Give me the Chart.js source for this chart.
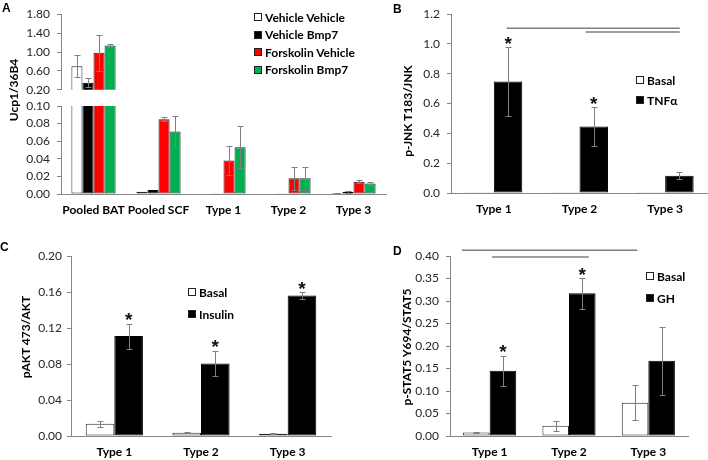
<!DOCTYPE html>
<html>
<head>
<meta charset="utf-8">
<script src="https://cdn.jsdelivr.net/npm/chart.js@4.4.1/dist/chart.umd.min.js"></script>
<style>
  body { margin: 0; background: #fff; }
  #wrap { position: relative; width: 708px; height: 460px; overflow: hidden; }
  canvas { position: absolute; }
  .letter { position: absolute; font: bold 12px "Liberation Sans", Arial, sans-serif; line-height: 12px; color: #000; }
  .ytitle { position: absolute; font: bold 12px Lato, sans-serif; white-space: nowrap; color: #000;
            transform: translate(-50%, -50%) rotate(-90deg); }
  .lrow { position: absolute; font: bold 12px Lato, sans-serif; color: #000; white-space: nowrap;
          display: flex; align-items: center; height: 14px; }
  .lbox { width: 8px; height: 8px; box-sizing: border-box; border: 1px solid #222; margin-right: 3px; }
</style>
</head>
<body>
<div id="wrap">
  <canvas id="aTop" width="390" height="104" style="left:0;top:0"></canvas>
  <canvas id="aBottom" width="390" height="140" style="left:0;top:90px"></canvas>
  <canvas id="bChart" width="318" height="230" style="left:390px;top:0"></canvas>
  <canvas id="cChart" width="354" height="230" style="left:0;top:230px"></canvas>
  <canvas id="dChart" width="318" height="230" style="left:390px;top:230px"></canvas>

  <div class="letter" style="left:2px;top:2px">A</div>
  <div class="letter" style="left:393px;top:3px">B</div>
  <div class="letter" style="left:0px;top:241px">C</div>
  <div class="letter" style="left:393px;top:245px">D</div>

  <div class="ytitle" style="left:13px;top:90px">Ucp1/36B4</div>
  <div class="ytitle" style="left:407px;top:111px">p-JNK T183/JNK</div>
  <div class="ytitle" style="left:25px;top:337px">pAKT 473/AKT</div>
  <div class="ytitle" style="left:406px;top:347px">p-STAT5 Y694/STAT5</div>
</div>

<script>
// ---- panel A: Ucp1 expression (broken axis) ----
const aCategories = ['Pooled BAT', 'Pooled SCF', 'Type 1', 'Type 2', 'Type 3'];
const aSeriesNames = ['Vehicle Vehicle', 'Vehicle Bmp7', 'Forskolin Vehicle', 'Forskolin Bmp7'];
const aVehicleVehicle = [0.70, 0.0025, 0.0005, 0.0006, 0.0012];
const aVehicleVehicleErr = [0.235, 0, 0, 0, 0.0003];
const aVehicleBmp7 = [0.35, 0.0045, 0.0004, 0.0003, 0.0025];
const aVehicleBmp7Err = [0.10, 0, 0, 0, 0.0008];
const aForskolinVehicle = [0.985, 0.085, 0.038, 0.018, 0.014];
const aForskolinVehicleErr = [0.38, 0.0025, 0.0165, 0.013, 0.0017];
const aForskolinBmp7 = [1.14, 0.071, 0.053, 0.018, 0.012];
const aForskolinBmp7Err = [0.03, 0.0175, 0.024, 0.013, 0.0013];
const aUpperTicks = [0.20, 0.60, 1.00, 1.40, 1.80];
const aLowerTicks = [0.00, 0.02, 0.04, 0.06, 0.08, 0.10];

// ---- panels B, C, D share the cell types ----
const typeCategories = ['Type 1', 'Type 2', 'Type 3'];

const bSeriesNames = ['Basal', 'TNFα'];
const bBasal = [0.005, 0.005, 0.005];
const bBasalErr = [0, 0, 0];
const bTnf = [0.748, 0.447, 0.116];
const bTnfErr = [0.23, 0.13, 0.022];
const bTnfStars = [true, true, false];
const bTicks = [0.0, 0.2, 0.4, 0.6, 0.8, 1.0, 1.2];
// comparison lines: [from category, to category, level]
const bBrackets = [[0.15, 2.17, 1.105], [1.07, 2.17, 1.08]];

const cSeriesNames = ['Basal', 'Insulin'];
const cBasal = [0.0135, 0.0035, 0.0025];
const cBasalErr = [0.0035, 0.0005, 0.0004];
const cInsulin = [0.111, 0.0805, 0.156];
const cInsulinErr = [0.014, 0.014, 0.0035];
const cInsulinStars = [true, true, true];
const cTicks = [0.00, 0.04, 0.08, 0.12, 0.16, 0.20];

const dSeriesNames = ['Basal', 'GH'];
const dBasal = [0.008, 0.023, 0.074];
const dBasalErr = [0.001, 0.011, 0.039];
const dGh = [0.145, 0.317, 0.167];
const dGhErr = [0.033, 0.034, 0.075];
const dGhStars = [true, true, false];
const dTicks = [0.00, 0.05, 0.10, 0.15, 0.20, 0.25, 0.30, 0.35, 0.40];
const dBrackets = [[-0.35, 1.86, 0.413], [0.03, 1.25, 0.398]];

// styles
const axisGrey = '#868686';
const errGrey = '#7f7f7f';
const fillWhite = '#ffffff';
const fillBlack = '#000000';
const fillRed = '#ff0000';
const fillGreen = '#00b050';
const edgeDark = '#262626';

function overlayPlugin(setup) {
  return {
    id: 'overlay',
    afterDatasetsDraw(chart) {
      const ctx = chart.ctx;
      const area = chart.chartArea;
      const yScale = chart.scales.y;
      const xScale = chart.scales.x;

      // error bars
      ctx.save();
      ctx.beginPath();
      ctx.rect(area.left, area.top - 1, area.right - area.left, area.bottom - area.top + 2);
      ctx.clip();
      ctx.strokeStyle = errGrey;
      ctx.lineWidth = 1;
      chart.data.datasets.forEach((ds, i) => {
        const errs = setup.series[i].errors;
        chart.getDatasetMeta(i).data.forEach((bar, j) => {
          const err = errs[j];
          if (!err) { return; }
          const top = Math.round(yScale.getPixelForValue(ds.data[j] + err)) + 0.5;
          const bot = Math.round(yScale.getPixelForValue(ds.data[j] - err)) + 0.5;
          const x = Math.round(bar.x) + 0.5;
          ctx.beginPath();
          ctx.moveTo(x, top); ctx.lineTo(x, bot);
          ctx.moveTo(x - 3, top); ctx.lineTo(x + 3, top);
          ctx.moveTo(x - 3, bot); ctx.lineTo(x + 3, bot);
          ctx.stroke();
        });
      });
      ctx.restore();

      // significance stars
      if (setup.stars) {
        ctx.save();
        ctx.fillStyle = '#111';
        ctx.font = 'bold 19px "Liberation Sans"';
        ctx.textAlign = 'center';
        ctx.textBaseline = 'alphabetic';
        const m = ctx.measureText('*');
        const si = setup.starSeries;
        const meta = chart.getDatasetMeta(si);
        setup.stars.forEach((on, j) => {
          if (!on) { return; }
          const v = setup.series[si].values[j] + setup.series[si].errors[j];
          const centre = yScale.getPixelForValue(v) - 7;
          const base = centre + (m.actualBoundingBoxAscent - m.actualBoundingBoxDescent) / 2;
          ctx.fillText('*', meta.data[j].x, base);
        });
        ctx.restore();
      }

      // comparison lines
      if (setup.brackets) {
        ctx.save();
        ctx.strokeStyle = errGrey;
        ctx.lineWidth = 1.5;
        setup.brackets.forEach((b) => {
          const y = yScale.getPixelForValue(b[2]);
          ctx.beginPath();
          ctx.moveTo(xScale.getPixelForValue(b[0]), y);
          ctx.lineTo(xScale.getPixelForValue(b[1]), y);
          ctx.stroke();
        });
        ctx.restore();
      }
    }
  };
}

function makeChart(id, setup) {
  const target = document.getElementById(id);
  return new Chart(target, {
    type: 'bar',
    data: {
      labels: setup.labels,
      datasets: setup.series.map((s) => ({
        label: s.name,
        data: s.values,
        backgroundColor: s.fill,
        borderColor: s.fill === fillBlack ? fillBlack : edgeDark,
        borderWidth: 1,
        borderSkipped: false,
        barPercentage: 1,
        categoryPercentage: setup.groupShare,
        clip: setup.clip
      }))
    },
    options: {
      responsive: false,
      animation: false,
      devicePixelRatio: 1,
      layout: { padding: setup.padding },
      plugins: { legend: { display: false }, tooltip: { enabled: false } },
      scales: {
        x: {
          display: setup.showX,
          grid: { display: false, drawTicks: false },
          border: { display: true, color: axisGrey, width: 1 },
          ticks: {
            color: '#000', padding: 9, autoSkip: false, maxRotation: 0, minRotation: 0,
            font: { family: 'Lato', size: 12, weight: 'bold' }
          },
          afterFit: (scale) => { scale.height = setup.xHeight; }
        },
        y: {
          min: setup.ticks[0],
          max: setup.ticks[setup.ticks.length - 1],
          afterBuildTicks: (scale) => { scale.ticks = setup.ticks.map((v) => ({ value: v })); },
          grid: { drawOnChartArea: false, drawTicks: true, tickLength: 4, color: axisGrey },
          border: { display: true, color: axisGrey, width: 1 },
          ticks: {
            color: '#262626', padding: setup.tickGap, font: { family: 'Lato', size: 12 },
            callback: (v) => Number(v).toFixed(setup.decimals)
          },
          afterFit: (scale) => { scale.width = setup.yWidth; }
        }
      }
    },
    plugins: [overlayPlugin(setup)]
  });
}

function makeLegend(left, firstCentre, gap, names, fills) {
  const wrap = document.getElementById('wrap');
  names.forEach((name, i) => {
    const row = document.createElement('div');
    row.className = 'lrow';
    row.style.left = left + 'px';
    row.style.top = (firstCentre + i * gap - 7) + 'px';
    const box = document.createElement('span');
    box.className = 'lbox';
    box.style.background = fills[i];
    row.appendChild(box);
    row.appendChild(document.createTextNode(name));
    wrap.appendChild(row);
  });
}

const aSeries = [
  { name: aSeriesNames[0], values: aVehicleVehicle, errors: aVehicleVehicleErr, fill: fillWhite },
  { name: aSeriesNames[1], values: aVehicleBmp7, errors: aVehicleBmp7Err, fill: fillBlack },
  { name: aSeriesNames[2], values: aForskolinVehicle, errors: aForskolinVehicleErr, fill: fillRed },
  { name: aSeriesNames[3], values: aForskolinBmp7, errors: aForskolinBmp7Err, fill: fillGreen }
];

makeChart('aTop', {
  labels: aCategories, series: aSeries, ticks: aUpperTicks, decimals: 2,
  groupShare: 0.68, showX: false, xHeight: 0, yWidth: 61, tickGap: 7, clip: 0,
  padding: { top: 10, right: 4, bottom: 10, left: 0 }
});
makeChart('aBottom', {
  labels: aCategories, series: aSeries, ticks: aLowerTicks, decimals: 2,
  groupShare: 0.68, showX: true, xHeight: 36, yWidth: 61, tickGap: 7, clip: 0,
  padding: { top: 16, right: 4, bottom: 0, left: 0 }
});

makeChart('bChart', {
  labels: typeCategories,
  series: [
    { name: bSeriesNames[0], values: bBasal, errors: bBasalErr, fill: fillWhite },
    { name: bSeriesNames[1], values: bTnf, errors: bTnfErr, fill: fillBlack }
  ],
  ticks: bTicks, decimals: 1, groupShare: 0.665, showX: true, xHeight: 37, yWidth: 61, tickGap: 7,
  stars: bTnfStars, starSeries: 1, brackets: bBrackets,
  padding: { top: 13, right: 0, bottom: 0, left: 0 }
});

makeChart('cChart', {
  labels: typeCategories,
  series: [
    { name: cSeriesNames[0], values: cBasal, errors: cBasalErr, fill: fillWhite },
    { name: cSeriesNames[1], values: cInsulin, errors: cInsulinErr, fill: fillBlack }
  ],
  ticks: cTicks, decimals: 2, groupShare: 0.66, showX: true, xHeight: 24, yWidth: 71, tickGap: 5,
  stars: cInsulinStars, starSeries: 1,
  padding: { top: 26, right: 23, bottom: 0, left: 0 }
});

makeChart('dChart', {
  labels: typeCategories,
  series: [
    { name: dSeriesNames[0], values: dBasal, errors: dBasalErr, fill: fillWhite },
    { name: dSeriesNames[1], values: dGh, errors: dGhErr, fill: fillBlack }
  ],
  ticks: dTicks, decimals: 2, groupShare: 0.67, showX: true, xHeight: 24, yWidth: 60, tickGap: 7,
  stars: dGhStars, starSeries: 1, brackets: dBrackets,
  padding: { top: 26, right: 20, bottom: 0, left: 0 }
});

makeLegend(254, 17, 17.6, aSeriesNames, [fillWhite, fillBlack, fillRed, fillGreen]);
makeLegend(636, 80, 20, bSeriesNames, [fillWhite, fillBlack]);
makeLegend(188, 292, 22, cSeriesNames, [fillWhite, fillBlack]);
makeLegend(646, 276, 22, dSeriesNames, [fillWhite, fillBlack]);
</script>
</body>
</html>
